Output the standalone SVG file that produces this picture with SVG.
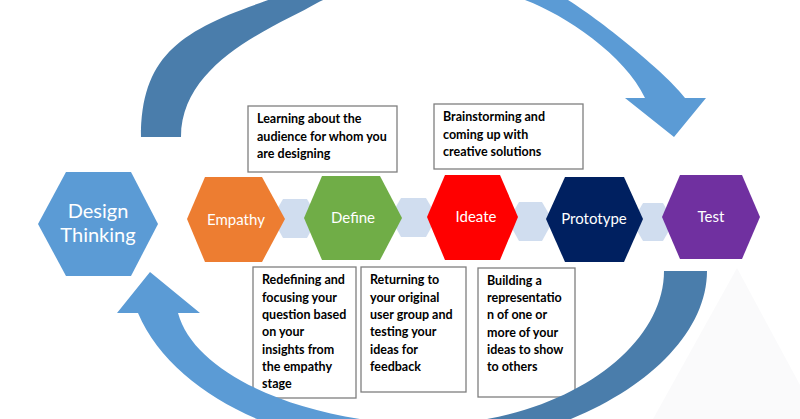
<svg xmlns="http://www.w3.org/2000/svg" width="800" height="419" viewBox="0 0 800 419">
<style>
.hexlabel{font-family:Lato,"Open Sans","Liberation Sans",sans-serif;fill:#ffffff;text-anchor:middle}
.box{fill:#ffffff;stroke:#7f7f7f;stroke-width:1.3}
.boxtext{font-family:Lato,"Liberation Sans",sans-serif;font-weight:bold;font-size:12.5px;fill:#000000}
.link{fill:#d0ddef}
.light{fill:#5b9bd5}
.dark{fill:#4a7dab}
</style>
<defs>
<clipPath id="leftHalf"><rect x="0" y="-100" width="420" height="600"/></clipPath>
<clipPath id="rightHalf"><rect x="420" y="-100" width="500" height="600"/></clipPath>
<path id="topArrow" d="M141,137 C141,57 180,31 260,3 C300,-11 360,-45 420,-45 C480,-45 520,-30 568,0 C606,24 669,76 685,98 L706,98 L674,137 L625,98 L645,98 C625,55 565,15 525,0 C490,-17 350,-17 317,3 C280,25 181,60 181,137 Z"/>
<path id="bottomArrow" d="M707,271 C707,360 580,445 420,450 C300,452 175,400 138,313 L117,313 L150,272 L200,313 L178,313 C195,375 300,420 420,425 C560,425 664,350 664,271 Z"/>
</defs>
<polygon points="737,268 800,385 800,419 653,419" fill="#fafafb"/>
<g id="cycle-top-arrow">
<use href="#topArrow" class="light" clip-path="url(#rightHalf)"/>
<use href="#topArrow" class="dark" clip-path="url(#leftHalf)"/>
</g>
<g id="connectors">
<polygon class="link" points="272,218 283,199 307,199 318,218 307,238 283,238"/>
<polygon class="link" points="390,217 401,198 426,198 437,217 426,237 401,237"/>
<polygon class="link" points="508,221 519,202 542,202 553,221 542,241 519,241"/>
<polygon class="link" points="632,222 643,203 663,203 674,222 663,241 643,241"/>
</g>
<g id="design-thinking">
<polygon fill="#5b9bd5" points="38,224 66,172 131,172 158,224 131,276 66,276"/>
<text class="hexlabel" x="98" y="218" font-size="20">Design</text>
<text class="hexlabel" x="98" y="242" font-size="20">Thinking</text>
</g>
<g id="empathy">
<polygon fill="#ed7d31" points="187,219 205,177 262,177 285,219 262,262 205,262"/>
<text class="hexlabel" x="236" y="225" font-size="15">Empathy</text>
</g>
<g id="define">
<polygon fill="#70ad47" points="304,218 322,176 380,176 402,218 380,260 322,260"/>
<text class="hexlabel" x="353" y="223" font-size="15">Define</text>
</g>
<g id="ideate">
<polygon fill="#ff0000" points="427,217 445,175 500,175 518,217 500,260 445,260"/>
<text class="hexlabel" x="476" y="222" font-size="15">Ideate</text>
</g>
<g id="prototype">
<polygon fill="#002060" points="546,219 565,177 624,177 643,219 624,262 565,262"/>
<text class="hexlabel" x="594" y="224" font-size="15">Prototype</text>
</g>
<g id="test">
<polygon fill="#7030a0" points="662,217 680,175 742,175 760,217 742,259 680,259"/>
<text class="hexlabel" x="711" y="222" font-size="15">Test</text>
</g>
<g id="note-empathy">
<rect class="box" x="248" y="106" width="149" height="66"/>
<text class="boxtext" x="257" y="123">Learning about the</text>
<text class="boxtext" x="257" y="141">audience for whom you</text>
<text class="boxtext" x="257" y="158">are designing</text>
</g>
<g id="note-ideate">
<rect class="box" x="434" y="104" width="149" height="65"/>
<text class="boxtext" x="443" y="121">Brainstorming and</text>
<text class="boxtext" x="443" y="139">coming up with</text>
<text class="boxtext" x="443" y="156">creative solutions</text>
</g>
<g id="note-define">
<rect class="box" x="253" y="267" width="103" height="131"/>
<text class="boxtext" x="262" y="284">Redefining and</text>
<text class="boxtext" x="262" y="302">focusing your</text>
<text class="boxtext" x="262" y="319">question based</text>
<text class="boxtext" x="262" y="336">on your</text>
<text class="boxtext" x="262" y="354">insights from</text>
<text class="boxtext" x="262" y="371">the empathy</text>
<text class="boxtext" x="262" y="388">stage</text>
</g>
<g id="note-test">
<rect class="box" x="361" y="267" width="105" height="125"/>
<text class="boxtext" x="370" y="284">Returning to</text>
<text class="boxtext" x="370" y="302">your original</text>
<text class="boxtext" x="370" y="319">user group and</text>
<text class="boxtext" x="370" y="336">testing your</text>
<text class="boxtext" x="370" y="354">ideas for</text>
<text class="boxtext" x="370" y="371">feedback</text>
</g>
<g id="note-prototype">
<rect class="box" x="478" y="268" width="97" height="129"/>
<text class="boxtext" x="487" y="285">Building a</text>
<text class="boxtext" x="487" y="302">representatio</text>
<text class="boxtext" x="487" y="319">n of one or</text>
<text class="boxtext" x="487" y="337">more of your</text>
<text class="boxtext" x="487" y="354">ideas to show</text>
<text class="boxtext" x="487" y="371">to others</text>
</g>
<g id="cycle-bottom-arrow">
<use href="#bottomArrow" class="light" clip-path="url(#leftHalf)"/>
<use href="#bottomArrow" class="dark" clip-path="url(#rightHalf)"/>
</g>
</svg>
